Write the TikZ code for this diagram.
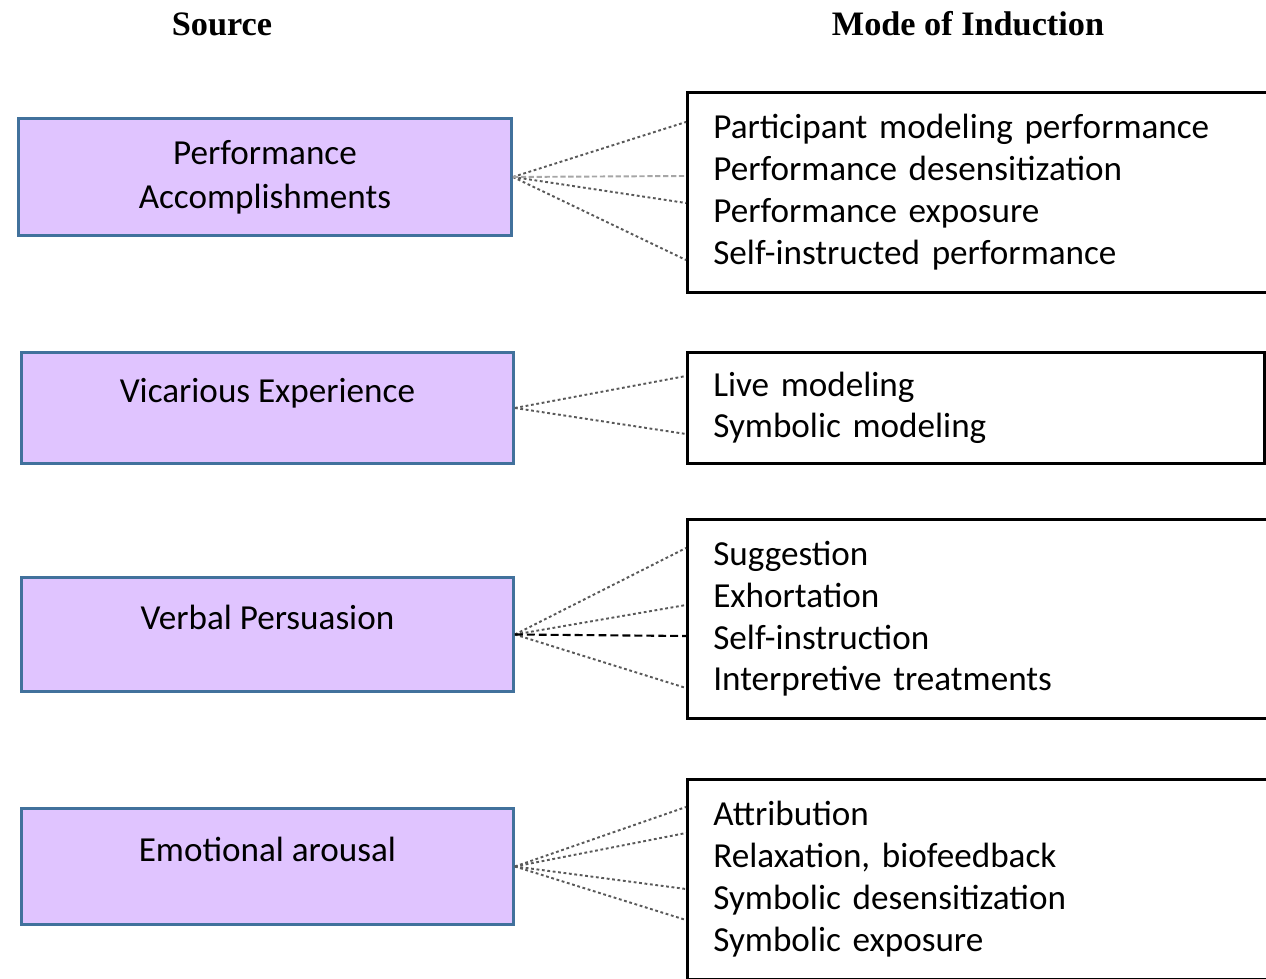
\documentclass[tikz,border=0pt]{standalone}
\usepackage{fontspec}
\setmainfont{Carlito}
\newfontfamily\headfont{Liberation Serif}
\usepackage{xcolor}
\usetikzlibrary{positioning}
\definecolor{srcfill}{HTML}{E0C4FF}
\definecolor{srcline}{HTML}{41719C}

\begin{document}
\begin{tikzpicture}[x=0.02cm, y=-0.02cm,
    src/.style={rectangle, draw=srcline, fill=srcfill, line width=1.7pt, anchor=north west, align=center, font=\fontsize{20}{25}\selectfont},
    srcone/.style={src, text depth=0.7cm},
    mode/.style={rectangle, draw=black, line width=1.5pt, anchor=north west, align=left, inner xsep=0.52cm, font=\fontsize{20}{23.8}\selectfont},
    head/.style={font=\headfont\bfseries\fontsize{19.5}{22}\selectfont},
    fan/.style={draw=black!65, line width=1.1pt, dash pattern=on 1.6pt off 1.5pt},
    fanlight/.style={draw=black!35, line width=1.1pt, dash pattern=on 3pt off 1.5pt},
    fandash/.style={draw=black, line width=1.2pt, dash pattern=on 4.5pt off 2.3pt}]

    \useasboundingbox (0,0) rectangle (1266,979);
    \clip (0,0) rectangle (1266,979);

    % headings
    \node[head] (srchd) at (222,24) {Source};
    \node[head] (modehd) at (968,24) {Mode of Induction};

    % sources
    \node[src, minimum width=9.86cm, minimum height=2.34cm] (perf) at (17,117) {Performance\\Accomplishments};
    \node[srcone, minimum width=9.84cm, minimum height=2.22cm] (vic) at (20,351) {Vicarious Experience};
    \node[srcone, minimum width=9.84cm, minimum height=2.28cm] (verb) at (20,576) {Verbal Persuasion};
    \node[srcone, minimum width=9.84cm, minimum height=2.32cm] (emo) at (20,807) {Emotional arousal};

    % modes of induction
    \node[mode, text width=10.75cm, minimum height=4cm] (m1) at (686,91) {Participant modeling performance\\Performance desensitization\\Performance exposure\\Self-instructed performance};
    \node[mode, text width=10.5cm, minimum height=2.22cm] (m2) at (686,351) {Live modeling\\Symbolic modeling};
    \node[mode, text width=10.75cm, minimum height=3.98cm] (m3) at (686,518) {Suggestion\\Exhortation\\Self-instruction\\Interpretive treatments};
    \node[mode, text width=10.75cm, minimum height=4cm] (m4) at (686,778) {Attribution\\Relaxation, biofeedback\\Symbolic desensitization\\Symbolic exposure};

    % ends of the connectors
    \coordinate (m1a) at (686,122);
    \coordinate (m1b) at (686,176);
    \coordinate (m1c) at (686,203);
    \coordinate (m1d) at (686,260);
    \coordinate (m2a) at (686,376);
    \coordinate (m2b) at (686,434);
    \coordinate (m3a) at (686,548);
    \coordinate (m3b) at (686,605);
    \coordinate (m3c) at (686,636);
    \coordinate (m3d) at (686,688);
    \coordinate (m4a) at (686,807);
    \coordinate (m4b) at (686,833);
    \coordinate (m4c) at (686,889);
    \coordinate (m4d) at (686,920);

    \path[fan]
    (perf.east) edge (m1a)
    (perf.east) edge (m1c)
    (perf.east) edge (m1d)
    (vic.east) edge (m2a)
    (vic.east) edge (m2b)
    (verb.east) edge (m3a)
    (verb.east) edge (m3b)
    (verb.east) edge (m3d)
    (emo.east) edge (m4a)
    (emo.east) edge (m4b)
    (emo.east) edge (m4c)
    (emo.east) edge (m4d);
    \path[fanlight] (perf.east) edge (m1b);
    \path[fandash] (verb.east) edge (m3c);

\end{tikzpicture}
\end{document}
